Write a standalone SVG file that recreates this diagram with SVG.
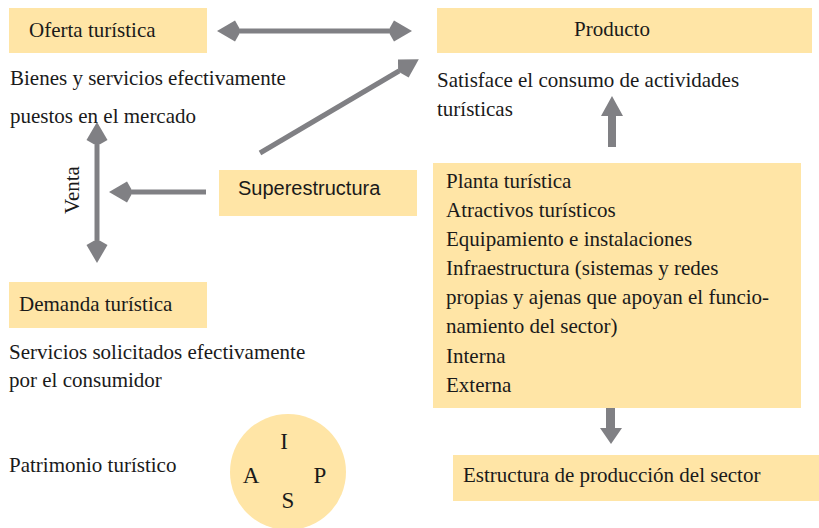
<svg xmlns="http://www.w3.org/2000/svg" width="819" height="528" viewBox="0 0 819 528">
<defs>
<style>
.box{fill:#FFE5A6;}
.t{font-family:"Liberation Serif","Times New Roman",serif;font-size:21px;fill:#1a1a1a;}
.s{font-family:"Liberation Sans",Arial,sans-serif;font-size:20px;fill:#1a1a1a;}
.c{font-family:"Liberation Serif","Times New Roman",serif;font-size:23px;fill:#1a1a1a;}
.ln{stroke:#808084;stroke-width:5;fill:none;}
.ah{fill:#808084;}
</style>
<marker id="head" markerUnits="userSpaceOnUse" markerWidth="30" markerHeight="30" refX="1" refY="11" orient="auto-start-reverse" viewBox="0 0 30 22">
<path d="M0,11 L6,0.5 L24,11 L6,21.5 Z" fill="#808084"/>
</marker>
</defs>
<rect width="819" height="528" fill="#ffffff"/>

<g id="connectors">
<line class="ln" x1="240" y1="31" x2="389" y2="31" marker-start="url(#head)" marker-end="url(#head)"/>
<line class="ln" x1="260" y1="153" x2="399" y2="71" marker-end="url(#head)"/>
<line class="ln" x1="206" y1="192" x2="132" y2="192" marker-end="url(#head)"/>
<line class="ln" x1="97" y1="145" x2="97" y2="240" marker-start="url(#head)" marker-end="url(#head)"/>
<polygon class="ah" points="608,147 616,147 616,116 623,116 612,96 601,116 608,116"/>
<polygon class="ah" points="606,402 615,402 615,428 622,428 611,444 600,428 606,428"/>
</g>

<g id="oferta">
<rect class="box" x="9" y="8" width="198" height="45"/>
<text class="t" x="29" y="37">Oferta turística</text>
</g>
<g id="oferta-desc">
<text class="t" x="10" y="85">Bienes y servicios efectivamente</text>
<text class="t" x="10" y="123">puestos en el mercado</text>
</g>

<g id="producto">
<rect class="box" x="437" y="8" width="375" height="45"/>
<text class="t" x="612" y="36" text-anchor="middle">Producto</text>
</g>
<g id="producto-desc">
<text class="t" x="437" y="87">Satisface el consumo de actividades</text>
<text class="t" x="437" y="116">turísticas</text>
</g>

<g id="superestructura">
<rect class="box" x="219" y="170" width="198" height="46"/>
<text class="s" x="238" y="195">Superestructura</text>
</g>

<g id="venta">
<text class="t" transform="translate(79,190) rotate(-90)" text-anchor="middle">Venta</text>
</g>

<g id="demanda">
<rect class="box" x="9" y="282" width="198" height="46"/>
<text class="t" x="19" y="311">Demanda turística</text>
</g>
<g id="demanda-desc">
<text class="t" x="9" y="359">Servicios solicitados efectivamente</text>
<text class="t" x="9" y="387">por el consumidor</text>
</g>

<g id="planta">
<rect class="box" x="433" y="163" width="368" height="245"/>
<text class="t" x="446" y="188">Planta turística</text>
<text class="t" x="446" y="217">Atractivos turísticos</text>
<text class="t" x="446" y="246">Equipamiento e instalaciones</text>
<text class="t" x="446" y="275">Infraestructura (sistemas y redes</text>
<text class="t" x="446" y="304">propias y ajenas que apoyan el funcio-</text>
<text class="t" x="446" y="333">namiento del sector)</text>
<text class="t" x="446" y="363">Interna</text>
<text class="t" x="446" y="392">Externa</text>
</g>

<g id="estructura">
<rect class="box" x="453" y="455" width="366" height="46"/>
<text class="t" x="463" y="482">Estructura de producción del sector</text>
</g>

<g id="patrimonio">
<text class="t" x="9" y="472">Patrimonio turístico</text>
</g>

<g id="circulo">
<circle class="box" cx="288" cy="472" r="58"/>
<text class="c" x="284" y="449" text-anchor="middle">I</text>
<text class="c" x="251" y="483" text-anchor="middle">A</text>
<text class="c" x="320" y="483" text-anchor="middle">P</text>
<text class="c" x="288" y="508" text-anchor="middle">S</text>
</g>
</svg>
